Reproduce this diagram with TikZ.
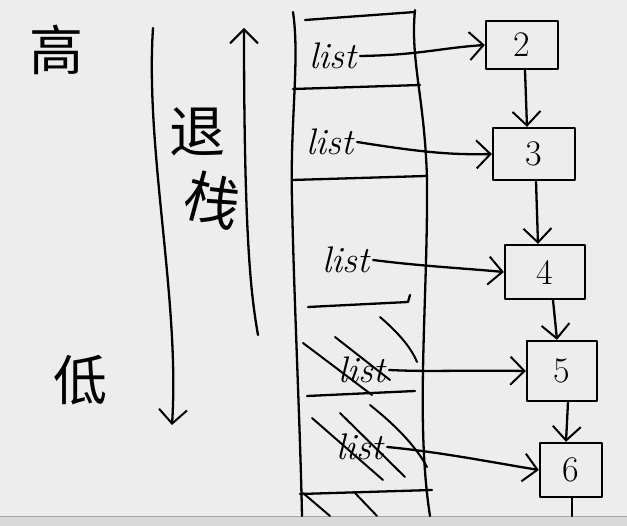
\documentclass[tikz,border=0pt]{standalone}
\usepackage{fontspec}
\newfontfamily\cjk{Noto Sans CJK SC}
\usetikzlibrary{arrows.meta}
\begin{document}
\begin{tikzpicture}[x=1pt,y=-1pt,
  ink/.style={line width=2.3pt,line cap=round,line join=round},
  arr/.style={ink,-{Straight Barb[length=14pt,width=28pt,line width=2pt]}},
  lbl/.style={font=\fontsize{37}{37}\selectfont\itshape},
  cjkt/.style={font=\cjk\fontsize{54}{54}\selectfont},
  nbox/.style={ink,draw,minimum width=72pt,minimum height=48pt,inner sep=0pt,font=\fontsize{36}{36}\selectfont},
  strike/.style={line width=2pt,line cap=round}]
\fill[black!7] (0,0) rectangle (627,526);
\useasboundingbox (0,0) rectangle (627,526);
\fill[black!15] (0,516) rectangle (627,526);
\draw[black!35] (0,516) -- (627,516);
% labels
\node[cjkt] (gao) at (56,50) {高};
\node[cjkt] (di) at (80,380) {低};
\node[cjkt,font=\cjk\fontsize{56}{56}\selectfont] (tui) at (197,132) {退};
\node[cjkt,font=\cjk\fontsize{56}{56}\selectfont,rotate=-15] (zhan) at (213,200) {栈};
% direction arrows
\coordinate (dtop) at (153,28);
\coordinate (dbot) at (172,425);
\draw[arr] (dtop) .. controls (145,150) and (180,300) .. (dbot);
\coordinate (ubot) at (258,335);
\coordinate (utop) at (244,28);
\draw[arr] (ubot) .. controls (252,300) and (244,250) .. (utop);
% stack column
\draw[ink] (293,12) .. controls (300,60) and (290,120) .. (292,200) .. controls (294,300) and (300,420) .. (302,516);
\draw[ink] (415,10) .. controls (410,60) and (425,100) .. (427,180) .. controls (428,300) and (415,420) .. (430,516);
\draw[ink] (305,20) -- (415,12);
\draw[ink] (293,89) -- (420,85);
\draw[ink] (292,180) -- (426,176);
\draw[ink] (308,307) -- (408,302) -- (410,295);
\draw[ink] (307,396) -- (415,391);
\draw[ink] (300,494) -- (432,490);
% list labels
\node[lbl] (l1) at (333,56) {list};
\node[lbl] (l2) at (330,142) {list};
\node[lbl] (l3) at (346,260) {list};
\node[lbl] (l4) at (362,370) {list};
\node[lbl] (l5) at (360,447) {list};
% strikes
\draw[strike] (380,317) .. controls (395,330) and (410,345) .. (417,362);
\draw[strike] (335,337) -- (390,380);
\draw[strike] (303,343) -- (372,395);
\draw[strike] (370,405) .. controls (395,425) and (415,445) .. (427,467);
\draw[strike] (340,413) -- (405,477);
\draw[strike] (312,418) -- (383,480);
\draw[strike] (303,493) -- (330,516);
\draw[strike] (355,493) -- (377,516);
% boxes
\node[nbox] (b2) at (522,45) {2};
\node[nbox,minimum width=82pt,minimum height=52pt] (b3) at (534,154) {3};
\node[nbox,minimum width=80pt,minimum height=54pt] (b4) at (545,272) {4};
\node[nbox,minimum width=70pt,minimum height=60pt] (b5) at (562,371) {5};
\node[nbox,minimum width=62pt,minimum height=54pt] (b6) at (571,470) {6};
% list -> box
\draw[arr] (l1.east) .. controls (420,55) and (440,48) .. (b2.west);
\draw[arr] (l2.east) .. controls (420,152) and (450,155) .. (b3.west);
\draw[arr] (l3.east) .. controls (420,266) and (460,268) .. (b4.west);
\draw[arr] (l4.east) .. controls (430,372) and (460,370) .. (b5.west);
\draw[arr] (l5.east) .. controls (440,452) and (490,462) .. (b6.west);
% box -> box
\draw[arr] (b2.south -| 525,0) -- (b3.north -| 527,0);
\draw[arr] (b3.south -| 536,0) -- (b4.north -| 538,0);
\draw[arr] (b4.south -| 553,0) -- (b5.north -| 557,0);
\draw[arr] (b5.south -| 568,0) -- (b6.north -| 566,0);
\coordinate (tail) at (572,516);
\draw[ink] (b6.south -| 572,0) -- (tail);
\end{tikzpicture}
\end{document}
